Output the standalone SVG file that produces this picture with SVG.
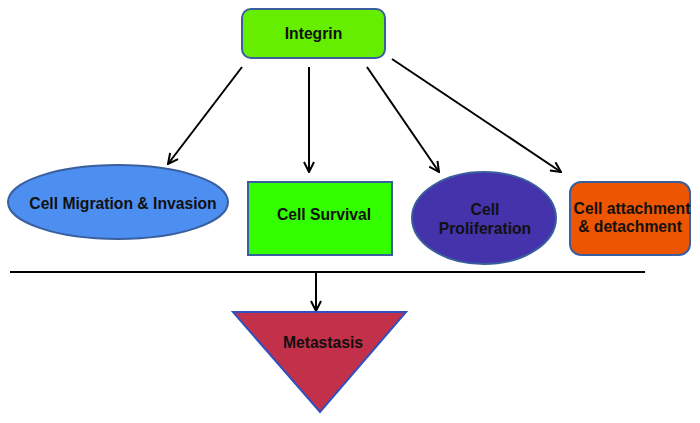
<svg xmlns="http://www.w3.org/2000/svg" width="700" height="423" viewBox="0 0 700 423">
<defs>
<marker id="arr" viewBox="0 0 12 12" refX="11" refY="6" markerWidth="12" markerHeight="12" markerUnits="userSpaceOnUse" orient="auto">
<path d="M1,1 L11,6 L1,11" fill="none" stroke="#000" stroke-width="2"/>
</marker>
<style>
.t{font-family:"Liberation Sans",Arial,sans-serif;font-weight:bold;font-size:15.7px;fill:#111;text-anchor:middle}
.c{stroke:#000;stroke-width:2;fill:none}
.s{stroke:#3A5F9E;stroke-width:2}
</style>
</defs>
<rect width="700" height="423" fill="#fff"/>
<g id="connectors">
<line class="c" x1="242" y1="67" x2="168" y2="164" marker-end="url(#arr)"/>
<line class="c" x1="309" y1="67" x2="309" y2="172" marker-end="url(#arr)"/>
<line class="c" x1="367" y1="67" x2="439" y2="172" marker-end="url(#arr)"/>
<line class="c" x1="392" y1="59" x2="561" y2="172" marker-end="url(#arr)"/>
<line x1="10" y1="272" x2="645" y2="272" stroke="#000" stroke-width="2"/>
<line class="c" x1="316" y1="272" x2="316" y2="311" marker-end="url(#arr)"/>
</g>
<g id="integrin">
<rect class="s" x="242" y="9" width="143" height="49" rx="9" fill="#66EE00"/>
<text class="t" x="313.5" y="39">Integrin</text>
</g>
<g id="migration">
<ellipse class="s" cx="118" cy="202" rx="110" ry="37" fill="#4D8FF0" stroke="#3466C8"/>
<text class="t" x="123" y="209">Cell Migration &amp; Invasion</text>
</g>
<g id="survival">
<rect class="s" x="248" y="182" width="144" height="73" fill="#33FF00"/>
<text class="t" x="324" y="220">Cell Survival</text>
</g>
<g id="proliferation">
<ellipse class="s" cx="484" cy="218" rx="72" ry="46" fill="#4433AA" stroke="#3A4FA8"/>
<text class="t" x="485" y="215">Cell</text>
<text class="t" x="485" y="234">Proliferation</text>
</g>
<g id="attachment">
<rect class="s" x="570" y="182" width="120" height="73" rx="11" fill="#EE5500"/>
<text class="t" x="632" y="214">Cell attachment</text>
<text class="t" x="630" y="232">&amp; detachment</text>
</g>
<g id="metastasis">
<polygon points="233,312 406,312 320,412" fill="#C3304A" stroke="#3050C0" stroke-width="2"/>
<text class="t" x="323" y="348">Metastasis</text>
</g>
</svg>
